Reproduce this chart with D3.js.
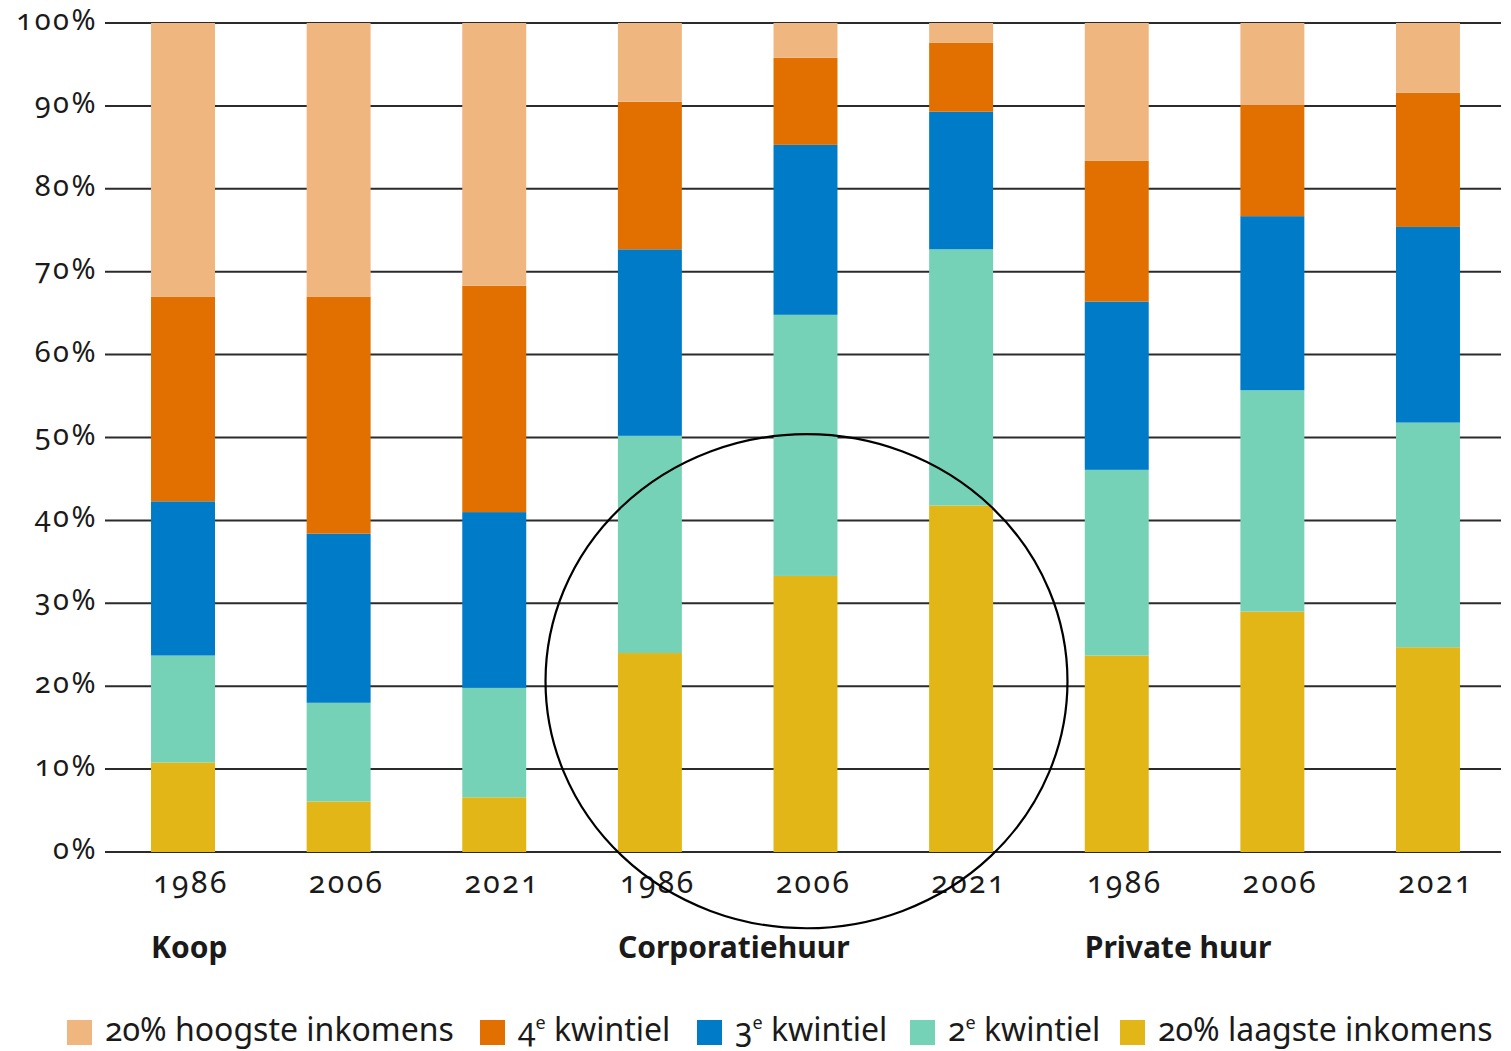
<!DOCTYPE html>
<html>
<head>
<meta charset="utf-8">
<script src="https://cdn.jsdelivr.net/npm/d3@7"></script>
<style>
  body { margin: 0; background: #fff; }
  svg { display: block; font-family: "Noto Sans", "Open Sans", sans-serif; font-feature-settings: "onum" 1; font-variant-numeric: oldstyle-nums; }
</style>
</head>
<body>
<svg id="chart" width="1511" height="1051"></svg>
<script>
// Tenure groups and survey years
const groups = ["Koop", "Corporatiehuur", "Private huur"];
const years = ["1986", "2006", "2021"];

// Income quintile series, bottom of the stack first
const seriesKeys = ["laagste", "k2", "k3", "k4", "hoogste"];
const seriesColors = ["#e1b616", "#76d2b6", "#007bc7", "#e17000", "#f0b680"];

// Shares (%) per bar, in order Koop 1986..2021, Corporatiehuur 1986..2021, Private huur 1986..2021
const laagste = [10.8, 6.1, 6.6, 24.0, 33.3, 41.8, 23.7, 29.0, 24.7];
const k2      = [12.9, 11.9, 13.2, 26.2, 31.5, 30.9, 22.4, 26.7, 27.1];
const k3      = [18.6, 20.4, 21.2, 22.5, 20.5, 16.6, 20.3, 21.0, 23.6];
const k4      = [24.7, 28.6, 27.3, 17.8, 10.5, 8.3, 17.0, 13.4, 16.2];
const hoogste = [33.0, 33.0, 31.7, 9.5, 4.2, 2.4, 16.6, 9.9, 8.4];

const yTicks = [0, 10, 20, 30, 40, 50, 60, 70, 80, 90, 100];

// Legend entries: main text, superscript, trailing text
const legendItems = [
  { key: "hoogste", pre: "20% hoogste inkomens", sup: "", post: "" },
  { key: "k4", pre: "4", sup: "e", post: " kwintiel" },
  { key: "k3", pre: "3", sup: "e", post: " kwintiel" },
  { key: "k2", pre: "2", sup: "e", post: " kwintiel" },
  { key: "laagste", pre: "20% laagste inkomens", sup: "", post: "" }
];

const seriesValues = { laagste, k2, k3, k4, hoogste };

// Build one row per bar
const rows = [];
groups.forEach((g, gi) => years.forEach((yr, yi) => {
  const i = gi * years.length + yi;
  const row = { id: g + "|" + yr, group: g, year: yr };
  seriesKeys.forEach(k => row[k] = seriesValues[k][i]);
  rows.push(row);
}));

const svg = d3.select("#chart");

const plot = { left: 105, right: 1501, top: 23, bottom: 852 };

const x = d3.scaleBand()
  .domain(rows.map(r => r.id))
  .range([105.2, 1505.8])
  .paddingInner(0.589)
  .paddingOuter(0.2945);

const y = d3.scaleLinear().domain([0, 100]).range([plot.bottom, plot.top]);

const color = d3.scaleOrdinal().domain(seriesKeys).range(seriesColors);

// Horizontal gridlines
svg.append("g")
  .selectAll("line")
  .data(yTicks)
  .join("line")
  .attr("x1", plot.left)
  .attr("x2", plot.right)
  .attr("y1", d => y(d))
  .attr("y2", d => y(d))
  .attr("stroke", "#2b2b2b")
  .attr("stroke-width", 2);

// Y tick labels
svg.append("g")
  .selectAll("text")
  .data(yTicks)
  .join("text")
  .attr("x", 98)
  .attr("y", d => y(d) + 7)
  .attr("text-anchor", "end")
  .attr("font-size", 29)
  .attr("letter-spacing", 2.5)
  .attr("fill", "#1a1a1a")
  .text(d => d + "%");

// Stacked bars
const stack = d3.stack().keys(seriesKeys);
const layers = stack(rows);

svg.append("g")
  .selectAll("g")
  .data(layers)
  .join("g")
  .attr("fill", d => color(d.key))
  .selectAll("rect")
  .data(d => d)
  .join("rect")
  .attr("x", d => x(d.data.id))
  .attr("width", x.bandwidth())
  .attr("y", d => y(d[1]))
  .attr("height", d => y(d[0]) - y(d[1]));

// Year labels under each bar
svg.append("g")
  .selectAll("text")
  .data(rows)
  .join("text")
  .attr("x", d => x(d.id) + x.bandwidth() / 2 + 8)
  .attr("y", 893)
  .attr("text-anchor", "middle")
  .attr("font-size", 30)
  .attr("letter-spacing", 2.5)
  .attr("fill", "#1a1a1a")
  .text(d => d.year);

// Tenure group labels, aligned with the first bar of each group
svg.append("g")
  .selectAll("text")
  .data(groups)
  .join("text")
  .attr("x", g => x(g + "|" + years[0]))
  .attr("y", 958)
  .attr("font-size", 30)
  .attr("font-weight", "bold")
  .attr("fill", "#1a1a1a")
  .text(g => g);

// Highlight ellipse around the Corporatiehuur bars
const midId = groups[1] + "|" + years[1];
svg.append("ellipse")
  .attr("cx", x(midId) + x.bandwidth() / 2 + 1)
  .attr("cy", y(20.6))
  .attr("rx", x.step() * 1.677)
  .attr("ry", y(0) - y(29.8))
  .attr("fill", "none")
  .attr("stroke", "#000")
  .attr("stroke-width", 2.2);

// Legend
const legendX = [67, 480, 697, 910, 1120];
const legend = svg.append("g");
legendItems.forEach((item, i) => {
  const gI = legend.append("g").attr("transform", `translate(${legendX[i]},0)`);
  gI.append("rect")
    .attr("x", 0).attr("y", 1020)
    .attr("width", 25).attr("height", 25)
    .attr("fill", color(item.key));
  const t = gI.append("text")
    .attr("x", 38).attr("y", 1041)
    .attr("font-size", 32)
    .attr("fill", "#1a1a1a");
  t.append("tspan").text(item.pre);
  if (item.sup) {
    t.append("tspan").attr("dy", -12).attr("font-size", 18).text(item.sup);
    t.append("tspan").attr("dy", 12).text(item.post);
  }
});
</script>
</body>
</html>
